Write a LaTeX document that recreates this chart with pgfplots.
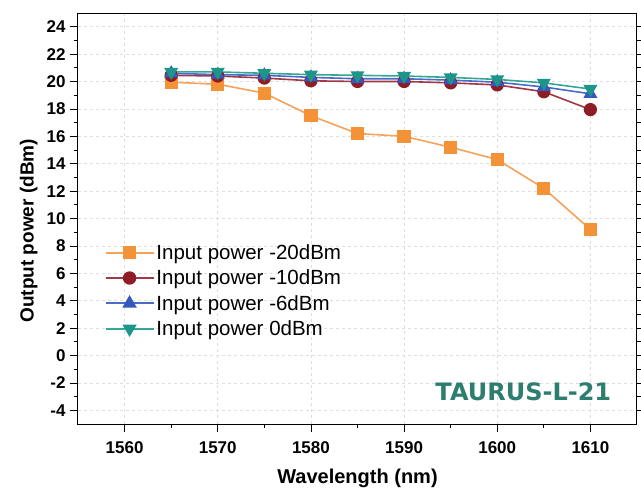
\documentclass[border=0pt]{standalone}
\usepackage{fontspec}
\setmainfont{Liberation Sans}
\newfontfamily\wmfont{DejaVu Sans}
\usepackage{pgfplots}
\pgfplotsset{compat=1.18}
\definecolor{cOr}{HTML}{F39237}
\definecolor{cOrL}{HTML}{F5A25A}
\definecolor{cRd}{HTML}{8E1D26}
\definecolor{cRdL}{HTML}{A03845}
\definecolor{cBl}{HTML}{3458C0}
\definecolor{cBlL}{HTML}{4A6CC8}
\definecolor{cTl}{HTML}{1E958A}
\definecolor{cTlL}{HTML}{35A595}
\definecolor{cWm}{HTML}{2E7E70}
\begin{document}
\begin{tikzpicture}
\useasboundingbox (-78pt,-64pt) rectangle (563pt,424pt);
\begin{axis}[
  at={(0,0)}, anchor=south west,
  scale only axis, width=559pt, height=411pt,
  xmin=1555, xmax=1615, ymin=-5, ymax=25,
  xtick={1560,1570,...,1610}, ytick={-4,-2,...,24},
  minor x tick num=1, minor y tick num=1,
  tick align=outside,
  xtick pos=bottom, ytick pos=both,
  major tick length=8pt, minor tick length=4pt,
  every tick/.style={black, line width=0.8pt},
  axis line style={line width=1pt},
  grid=major,
  major grid style={gray!25, dashed, line width=0.5pt},
  /pgf/number format/assume math mode=true,
  /pgf/number format/1000 sep={},
  ticklabel style={font=\bfseries\fontsize{17}{17}\selectfont},
  xticklabel style={yshift=-6pt},
  yticklabel style={xshift=-1pt},
  xlabel={\bfseries Wavelength (nm)},
  ylabel={\bfseries Output power (dBm)},
  xlabel style={font=\bfseries\fontsize{20}{20}\selectfont, yshift=-9pt},
  ylabel style={font=\bfseries\fontsize{19}{19}\selectfont, at={(ticklabel cs:0.47)}, yshift=2pt},
  legend style={at={(0.042,0.447)}, anchor=north west, draw=none, fill=none,
    font=\fontsize{20.5}{20.5}\selectfont, row sep=5pt},
  legend cell align=left,
  legend image code/.code={%
    \draw[line width=1.8pt, mark repeat=2,mark phase=2] plot coordinates {(0pt,0pt) (24pt,0pt) (48pt,0pt)};},
]
\addplot[cOrL, line width=1.6pt, mark=square*, mark size=5.8pt, mark options={fill=cOr, draw=cOr}] coordinates {
(1565,19.95) (1570,19.8) (1575,19.15) (1580,17.5) (1585,16.2) (1590,16.0) (1595,15.2) (1600,14.3) (1605,12.2) (1610,9.2)};
\addlegendentry{Input power -20dBm}
\addplot[cRdL, line width=1.6pt, mark=*, mark size=5.8pt, mark options={fill=cRd, draw=cRd}] coordinates {
(1565,20.45) (1570,20.4) (1575,20.25) (1580,20.05) (1585,20.0) (1590,20.0) (1595,19.9) (1600,19.75) (1605,19.25) (1610,17.95)};
\addlegendentry{Input power -10dBm}
\addplot[cBlL, line width=1.6pt, mark=triangle*, mark size=6.5pt, mark options={fill=cBl, draw=cBl}] coordinates {
(1565,20.6) (1570,20.5) (1575,20.45) (1580,20.3) (1585,20.2) (1590,20.2) (1595,20.1) (1600,19.95) (1605,19.6) (1610,19.1)};
\addlegendentry{Input power -6dBm}
\addplot[cTlL, line width=1.6pt, mark=triangle*, mark size=6.5pt, mark options={fill=cTl, draw=cTl, rotate=180}] coordinates {
(1565,20.7) (1570,20.7) (1575,20.6) (1580,20.5) (1585,20.45) (1590,20.4) (1595,20.3) (1600,20.15) (1605,19.9) (1610,19.45)};
\addlegendentry{Input power 0dBm}
\node[text=cWm, font=\wmfont\bfseries\fontsize{24}{24}\selectfont, anchor=center] at (axis cs:1602.8,-2.66) {TAURUS-L-21};
\end{axis}
\end{tikzpicture}
\end{document}
